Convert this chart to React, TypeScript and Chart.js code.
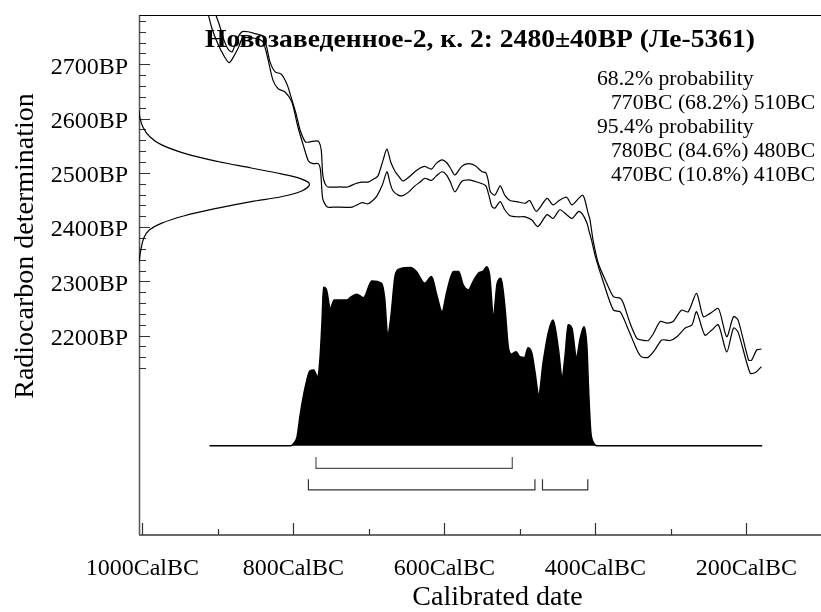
import React, { useEffect, useRef } from "react";
import { Chart, registerables } from "chart.js";

Chart.register(...registerables);

const FONT = '"Liberation Serif", "Times New Roman", serif';

const TITLE = "Новозаведенное-2, к. 2: 2480±40BP (Ле-5361)";
const X_TITLE = "Calibrated date";
const Y_TITLE = "Radiocarbon determination";

// axis ticks
const xMajorTicks = [1000, 800, 600, 400, 200];
const xMinorTicks = [900, 700, 500, 300];
const yMajorTicks = [2200, 2300, 2400, 2500, 2600, 2700];
const yMinorTicks = [
  2140, 2160, 2180, 2200, 2220, 2240, 2260, 2280, 2300, 2320, 2340, 2360, 2380, 2400, 2420, 2440, 2460,
  2480, 2500, 2520, 2540, 2560, 2580, 2600, 2620, 2640, 2660, 2680, 2700, 2720, 2740, 2760, 2780,
];

// calibration curve, upper and lower (1 sigma) lines: [calBC, BP]
const upperCurve = [
  [905, 2800], [898, 2773], [892, 2745], [886, 2727], [881, 2723], [875, 2745], [868, 2760], [860, 2760],
  [849, 2756], [841, 2753], [836, 2736], [831, 2705], [824, 2686], [816, 2682], [808, 2662], [802, 2635],
  [796, 2607], [791, 2579], [784, 2557], [778, 2557], [770, 2559], [766, 2557], [763, 2542], [761, 2496],
  [758, 2480], [754, 2474], [738, 2474], [728, 2474], [718, 2480], [709, 2483], [701, 2483], [693, 2489],
  [688, 2494], [681, 2524], [676, 2544], [671, 2520], [665, 2502], [660, 2493], [655, 2485], [648, 2491],
  [639, 2502], [632, 2509], [626, 2512], [617, 2507], [611, 2517], [603, 2524], [597, 2519], [592, 2509],
  [586, 2496], [577, 2512], [568, 2517], [559, 2513], [550, 2502], [545, 2500], [542, 2487], [539, 2465],
  [533, 2459], [526, 2476], [520, 2459], [513, 2449], [504, 2447], [493, 2444], [487, 2449], [478, 2429],
  [464, 2453], [456, 2441], [447, 2450], [438, 2455], [431, 2441], [422, 2453], [417, 2459], [414, 2451],
  [410, 2428], [407, 2413], [403, 2376], [396, 2333], [385, 2297], [376, 2272], [367, 2269], [363, 2260],
  [354, 2223], [345, 2195], [339, 2192], [330, 2191], [323, 2204], [314, 2226], [305, 2223], [297, 2226],
  [286, 2247], [277, 2244], [266, 2278], [257, 2235], [248, 2241], [237, 2250], [226, 2198], [217, 2235],
  [211, 2229], [197, 2155], [193, 2155], [186, 2174], [180, 2175],
];
const lowerCurve = [
  [914, 2800], [908, 2767], [900, 2738], [892, 2716], [885, 2703], [880, 2712], [873, 2730], [867, 2749],
  [857, 2749], [847, 2747], [840, 2741], [834, 2712], [827, 2671], [820, 2655], [811, 2649], [802, 2631],
  [794, 2585], [787, 2552], [780, 2522], [774, 2517], [767, 2517], [764, 2505], [761, 2452], [755, 2437],
  [745, 2437], [722, 2437], [709, 2445], [701, 2443], [694, 2450], [689, 2458], [682, 2478], [676, 2502],
  [672, 2482], [668, 2467], [661, 2459], [655, 2458], [647, 2465], [639, 2476], [632, 2483], [626, 2490],
  [617, 2486], [611, 2494], [603, 2502], [597, 2496], [592, 2483], [586, 2465], [577, 2484], [568, 2487],
  [559, 2484], [550, 2480], [545, 2476], [541, 2459], [537, 2438], [533, 2435], [526, 2447], [520, 2432],
  [513, 2421], [502, 2419], [493, 2419], [484, 2413], [476, 2401], [464, 2423], [456, 2416], [447, 2432],
  [438, 2423], [431, 2416], [422, 2429], [417, 2424], [411, 2407], [408, 2391], [405, 2376], [400, 2346],
  [389, 2297], [376, 2247], [367, 2244], [358, 2217], [345, 2174], [339, 2161], [330, 2160], [321, 2174],
  [312, 2192], [301, 2191], [292, 2198], [281, 2214], [272, 2220], [266, 2244], [255, 2201], [246, 2210],
  [237, 2220], [226, 2170], [217, 2214], [211, 2207], [195, 2131], [188, 2132], [180, 2143],
];

// radiocarbon measurement distribution: [BP, relative density]
const measurement = [
  [2615, 0], [2604, 0.004], [2585, 0.022], [2567, 0.062], [2552, 0.13], [2536, 0.267], [2521, 0.462],
  [2509, 0.658], [2498, 0.834], [2489, 0.951], [2479, 1], [2466, 0.951], [2456, 0.834], [2447, 0.658],
  [2435, 0.462], [2421, 0.267], [2407, 0.13], [2395, 0.062], [2380, 0.028], [2355, 0.009], [2336, 0],
];

// calibrated probability: [calBC, relative probability]
const calibrated = [
  [911, 0], [803, 0], [800, 0.01], [795, 0.05], [791, 0.17], [784, 0.33], [778, 0.415], [773, 0.42],
  [768, 0.383], [765, 0.467], [762, 0.689], [760, 0.88], [756, 0.865], [751, 0.763], [746, 0.809],
  [729, 0.809], [723, 0.828], [716, 0.841], [707, 0.822], [696, 0.915], [683, 0.902], [679, 0.819],
  [675, 0.615], [671, 0.708], [665, 0.948], [659, 0.982], [645, 0.989], [637, 0.967], [626, 0.902],
  [617, 0.939], [610, 0.837], [603, 0.744], [597, 0.85], [588, 0.967], [581, 0.967], [575, 0.893],
  [568, 0.865], [562, 0.911], [555, 0.958], [548, 0.971], [544, 0.994], [540, 0.948], [535, 0.726],
  [530, 0.902], [525, 0.93], [520, 0.782], [515, 0.541], [511, 0.508], [505, 0.522], [500, 0.494],
  [494, 0.489], [489, 0.544], [484, 0.513], [480, 0.411], [475, 0.286], [469, 0.467], [462, 0.633],
  [456, 0.698], [449, 0.541], [444, 0.383], [440, 0.504], [436, 0.671], [431, 0.652], [425, 0.494],
  [420, 0.597], [415, 0.661], [411, 0.541], [409, 0.319], [406, 0.078], [403, 0.022], [398, 0], [179, 0],
];

// probability ranges: [fromBC, toBC, percent]
const ranges68 = [[770, 510, 68.2]];
const ranges95 = [[780, 480, 84.6], [470, 410, 10.8]];

function bracket(r: number[], level: number, tickTop: number) {
  return [
    { x: r[0], y: tickTop },
    { x: r[0], y: level },
    { x: r[1], y: level },
    { x: r[1], y: tickTop },
  ];
}

const decorPlugin = {
  id: "decor",
  beforeDatasetsDraw(chart: any) {
    const { ctx, chartArea } = chart;
    const { left, right, top, bottom } = chartArea;
    const xs = chart.scales.x;
    const ys = chart.scales.y;
    ctx.save();
    // frame
    ctx.strokeStyle = "#000";
    ctx.lineWidth = 1;
    ctx.beginPath();
    ctx.moveTo(left, top);
    ctx.lineTo(right, top);
    ctx.stroke();
    ctx.strokeStyle = "#555";
    ctx.lineWidth = 1.5;
    ctx.beginPath();
    ctx.moveTo(left + 0.5, top);
    ctx.lineTo(left + 0.5, bottom);
    ctx.stroke();
    ctx.strokeStyle = "#6a6a6a";
    ctx.lineWidth = 2;
    ctx.beginPath();
    ctx.moveTo(left, bottom);
    ctx.lineTo(right, bottom);
    ctx.stroke();
    // ticks
    ctx.strokeStyle = "#333";
    ctx.lineWidth = 1.2;
    ctx.beginPath();
    xMajorTicks.forEach((v) => {
      const p = Math.round(xs.getPixelForValue(v)) + 0.5;
      ctx.moveTo(p, bottom);
      ctx.lineTo(p, bottom - 12);
    });
    xMinorTicks.forEach((v) => {
      const p = Math.round(xs.getPixelForValue(v)) + 0.5;
      ctx.moveTo(p, bottom);
      ctx.lineTo(p, bottom - 6);
    });
    yMinorTicks.forEach((v) => {
      const p = Math.round(ys.getPixelForValue(v)) + 0.5;
      ctx.moveTo(left, p);
      ctx.lineTo(left + 7, p);
    });
    yMajorTicks.forEach((v) => {
      const p = Math.round(ys.getPixelForValue(v)) + 0.5;
      ctx.moveTo(left, p);
      ctx.lineTo(left + 11, p);
    });
    ctx.stroke();
    ctx.restore();
  },
  afterDatasetsDraw(chart: any) {
    const { ctx, chartArea } = chart;
    const { left, right } = chartArea;
    ctx.save();
    ctx.fillStyle = "#000";
    // title
    ctx.font = `bold 26px ${FONT}`;
    ctx.textAlign = "center";
    ctx.textBaseline = "alphabetic";
    const w = ctx.measureText(TITLE).width;
    ctx.save();
    ctx.translate((left + right) / 2, 47);
    ctx.scale(550 / w, 1);
    ctx.fillText(TITLE, 0, 0);
    ctx.restore();
    // probability summary
    ctx.font = `21.7px ${FONT}`;
    ctx.textAlign = "left";
    const lines: [string, number][] = [];
    lines.push(["68.2% probability", 0]);
    ranges68.forEach((r) => lines.push([`${r[0]}BC (${r[2]}%) ${r[1]}BC`, 1]));
    lines.push(["95.4% probability", 0]);
    ranges95.forEach((r) => lines.push([`${r[0]}BC (${r[2]}%) ${r[1]}BC`, 1]));
    lines.forEach(([t, indent], i) => {
      ctx.fillText(t, 597 + indent * 14, 85 + i * 24);
    });
    // axis titles
    ctx.font = `28px ${FONT}`;
    ctx.textAlign = "center";
    ctx.fillText(X_TITLE, 497.5, 605);
    ctx.translate(33, 246);
    ctx.rotate(-Math.PI / 2);
    ctx.fillText(Y_TITLE, 0, 0);
    ctx.restore();
  },
};

export default function App() {
  const ref = useRef<HTMLCanvasElement>(null);

  useEffect(() => {
    const canvas = ref.current;
    if (!canvas) return;

    const lineStyle = {
      type: "line" as const,
      borderColor: "#000",
      borderWidth: 1.2,
      pointRadius: 0,
      fill: false,
    };

    const datasets: any[] = [
      {
        ...lineStyle,
        label: "calibrated",
        data: calibrated.map(([x, y]) => ({ x, y })),
        xAxisID: "x",
        yAxisID: "yp",
        fill: "origin",
        backgroundColor: "#000",
        borderWidth: 1.5,
        cubicInterpolationMode: "monotone",
      },
      {
        ...lineStyle,
        label: "upper",
        data: upperCurve.map(([x, y]) => ({ x, y })),
        xAxisID: "x",
        yAxisID: "y",
        tension: 0.25,
      },
      {
        ...lineStyle,
        label: "lower",
        data: lowerCurve.map(([x, y]) => ({ x, y })),
        xAxisID: "x",
        yAxisID: "y",
        tension: 0.25,
      },
      {
        ...lineStyle,
        label: "measurement",
        data: measurement.map(([y, x]) => ({ x, y })),
        xAxisID: "xg",
        yAxisID: "y",
        tension: 0.35,
      },
    ];
    ranges68.forEach((r) =>
      datasets.push({
        ...lineStyle,
        label: "r68",
        data: bracket(r, -0.1256, -0.0628),
        xAxisID: "x",
        yAxisID: "yp",
        borderColor: "#555",
        borderWidth: 1.2,
        tension: 0,
      })
    );
    ranges95.forEach((r) =>
      datasets.push({
        ...lineStyle,
        label: "r95",
        data: bracket(r, -0.246, -0.1867),
        xAxisID: "x",
        yAxisID: "yp",
        borderColor: "#333",
        borderWidth: 1.2,
        tension: 0,
      })
    );

    const chart = new Chart(canvas, {
      type: "line",
      data: { datasets },
      plugins: [decorPlugin],
      options: {
        responsive: false,
        maintainAspectRatio: false,
        devicePixelRatio: 1,
        animation: false,
        events: [],
        layout: { padding: { top: 15.5, right: 0, bottom: 0, left: 0 } },
        plugins: { legend: { display: false }, tooltip: { enabled: false }, title: { display: false } },
        scales: {
          x: {
            type: "linear",
            position: "bottom",
            reverse: true,
            min: 101.1,
            max: 1004.4,
            grid: { display: false, drawTicks: false },
            border: { display: false },
            afterBuildTicks: (scale: any) => {
              scale.ticks = xMajorTicks.map((v) => ({ value: v }));
            },
            afterFit: (scale: any) => {
              scale.height = 77;
              scale.paddingLeft = 0;
              scale.paddingRight = 0;
              scale.paddingTop = 0;
              scale.paddingBottom = 0;
            },
            ticks: {
              autoSkip: false,
              maxRotation: 0,
              padding: 19,
              color: "#000",
              font: { family: FONT, size: 24 },
              callback: (v: any) => `${v}CalBC`,
            },
          },
          y: {
            type: "linear",
            position: "left",
            min: 1832.6,
            max: 2790,
            grid: { display: false, drawTicks: false },
            border: { display: false },
            afterBuildTicks: (scale: any) => {
              scale.ticks = yMajorTicks.map((v) => ({ value: v }));
            },
            afterFit: (scale: any) => {
              scale.width = 139;
              scale.paddingLeft = 0;
              scale.paddingRight = 0;
              scale.paddingTop = 0;
              scale.paddingBottom = 0;
            },
            ticks: {
              autoSkip: false,
              padding: 11,
              labelOffset: 3,
              color: "#000",
              font: { family: FONT, size: 24 },
              callback: (v: any) => `${v}BP`,
            },
          },
          xg: { type: "linear", display: false, min: 0, max: 4 },
          yp: { type: "linear", display: false, min: -0.4961, max: 2.3889 },
        },
      },
    } as any);

    return () => chart.destroy();
  }, []);

  return (
    <div style={{ position: "fixed", left: 0, top: 0, width: 821, height: 612, background: "#fff" }}>
      <canvas ref={ref} width={821} height={612} style={{ display: "block", width: 821, height: 612 }} />
    </div>
  );
}
